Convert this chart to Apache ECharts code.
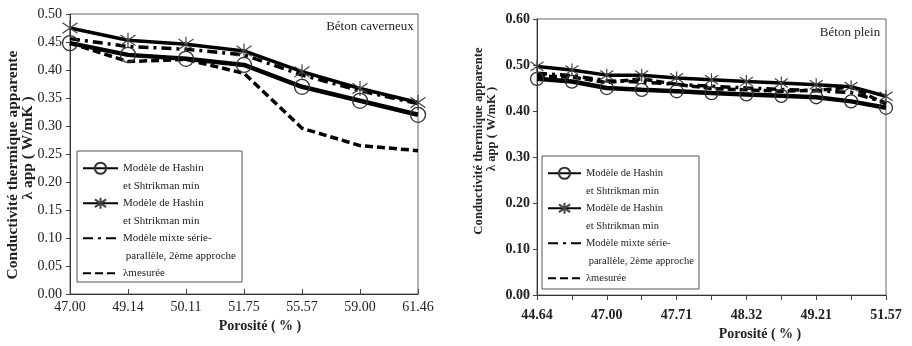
<!DOCTYPE html>
<html>
	<head>
		<meta charset="utf-8">
		<script src="https://cdn.jsdelivr.net/npm/echarts@6.0.0/dist/echarts.min.js"></script>
		<style>
			body {margin:0; background:#fff;}
			#main {width:912px; height:346px;}
		</style>
	</head>
	<body>
		<div id="main"></div>
		<script>
			// béton caverneux
			var cavCats = ['47.00', '49.14', '50.11', '51.75', '55.57', '59.00', '61.46'];
			var cavHsMin = [0.448, 0.427, 0.420, 0.409, 0.370, 0.345, 0.320];
			var cavHsMax = [0.475, 0.453, 0.446, 0.434, 0.397, 0.367, 0.342];
			var cavMixte = [0.456, 0.442, 0.437, 0.427, 0.391, 0.363, 0.340];
			var cavMesure = [0.448, 0.415, 0.419, 0.394, 0.296, 0.265, 0.256];
			// béton plein
			var pleinCats = ['44.64', '', '47.00', '', '47.71', '', '48.32', '', '49.21', '', '51.57'];
			var pleinHsMin = [0.470, 0.464, 0.450, 0.446, 0.443, 0.439, 0.436, 0.433, 0.430, 0.421, 0.407];
			var pleinHsMax = [0.497, 0.489, 0.478, 0.478, 0.472, 0.468, 0.464, 0.461, 0.457, 0.453, 0.432];
			var pleinMixte = [0.482, 0.477, 0.466, 0.463, 0.458, 0.454, 0.450, 0.447, 0.444, 0.440, 0.418];
			var pleinMesure = [0.476, 0.474, 0.462, 0.470, 0.458, 0.449, 0.446, 0.443, 0.445, 0.452, 0.415];

			// blank first line so that the icon sits on the first text line
			var legendText = {
				'hsmin': '\nModèle de Hashin\net Shtrikman min',
				'hsmax': '\nModèle de Hashin\net Shtrikman min',
				'mixte': '\nModèle mixte série-\n parallèle, 2ème approche',
				'mesure': '\nλmesurée\n'
			};

			var serif = 'Liberation Serif';
			var star = 'path://M5,0L5,10M1.5,1.5L8.5,8.5M8.5,1.5L1.5,8.5';
			var L = 17.5;
			var noMark = {color:'rgba(0,0,0,0)', borderColor:'rgba(0,0,0,0)', borderWidth:0};

			function mkSeries(idx, a, b, c, d, sz){
				return [
					{name:'hsmin', type:'line', xAxisIndex:idx, yAxisIndex:idx, data:a,
						symbol:'circle', symbolSize:sz,
						itemStyle:{color:'transparent', borderColor:'#333', borderWidth:1.3},
						lineStyle:{color:'#000', width:4.5}},
					{name:'hsmax', type:'line', xAxisIndex:idx, yAxisIndex:idx, data:b,
						symbol:star, symbolSize:sz,
						itemStyle:{color:'transparent', borderColor:'#444', borderWidth:1.2},
						lineStyle:{color:'#000', width:3.5}},
					{name:'mixte', type:'line', xAxisIndex:idx, yAxisIndex:idx, data:c,
						symbol:'none', itemStyle:{color:'#000'},
						lineStyle:{color:'#000', width:3.5, type:[10, 5, 3, 5]}},
					{name:'mesure', type:'line', xAxisIndex:idx, yAxisIndex:idx, data:d,
						symbol:'none', itemStyle:{color:'#000'},
						lineStyle:{color:'#000', width:3.5, type:[8, 4]}}
				];
			}

			function mkLegend(left, top, w, fs){
				return {
					left:left, top:top, orient:'vertical', padding:0,
					itemWidth:w, itemHeight:14, itemGap:-L, selectedMode:false,
					formatter:function(name){ return legendText[name]; },
					textStyle:{fontFamily:serif, fontSize:fs, color:'#222', lineHeight:L},
					data:[
						{name:'hsmin'}, {name:'hsmax'},
						{name:'mixte', itemStyle:noMark},
						{name:'mesure', itemStyle:noMark}
					]
				};
			}

			var option = {
				animation:false,
				grid:[
					{left:70, right:494, top:14, bottom:52, show:true, borderColor:'#666', borderWidth:1},
					{left:537, right:26, top:19, bottom:50, show:true, borderColor:'#666', borderWidth:1}
				],
				legend:[mkLegend(82, 142, 35, 11), mkLegend(547, 147, 33, 10.5)],
				xAxis:[
					{gridIndex:0, type:'category', data:cavCats, boundaryGap:false,
						axisLine:{lineStyle:{color:'#333'}},
						axisTick:{inside:true, length:5, lineStyle:{color:'#444'}},
						axisLabel:{fontFamily:serif, fontSize:14, color:'#222', margin:6},
						name:'Porosité ( % )', nameLocation:'middle', nameGap:24,
						nameTextStyle:{fontFamily:serif, fontSize:14, fontWeight:'bold', color:'#222', padding:[0,0,0,32]}},
					{gridIndex:1, type:'category', data:pleinCats, boundaryGap:false,
						axisLine:{lineStyle:{color:'#333'}},
						axisTick:{interval:0, length:5, lineStyle:{color:'#444'}},
						axisLabel:{interval:0, fontFamily:serif, fontSize:14, fontWeight:'bold', color:'#222', margin:13},
						name:'Porosité ( % )', nameLocation:'middle', nameGap:31,
						nameTextStyle:{fontFamily:serif, fontSize:14, fontWeight:'bold', color:'#222', padding:[0,0,0,97]}}
				],
				yAxis:[
					{gridIndex:0, type:'value', min:0, max:0.5, interval:0.05,
						axisLine:{show:true, lineStyle:{color:'#333'}},
						axisTick:{show:true, length:4, lineStyle:{color:'#444'}},
						splitLine:{show:false},
						axisLabel:{fontFamily:serif, fontSize:14, color:'#222', margin:8,
							formatter:function(v){ return v.toFixed(2); }}},
					{gridIndex:1, type:'value', min:0, max:0.6, interval:0.1,
						axisLine:{show:true, lineStyle:{color:'#333'}},
						axisTick:{show:true, length:4, lineStyle:{color:'#444'}},
						splitLine:{show:false},
						axisLabel:{fontFamily:serif, fontSize:14, fontWeight:'bold', color:'#222', margin:7,
							formatter:function(v){ return v.toFixed(2); }}}
				],
				graphic:[
					{type:'rect', shape:{x:77, y:151, width:165, height:131}, style:{fill:'none', stroke:'#555', lineWidth:1}, z:-1},
					{type:'rect', shape:{x:542, y:156, width:157, height:133}, style:{fill:'none', stroke:'#555', lineWidth:1}, z:-1},
					{type:'text', x:370, y:27, style:{text:'Béton caverneux', fontFamily:serif, fontSize:13, fill:'#222', textAlign:'center', textVerticalAlign:'middle'}},
					{type:'text', x:850, y:33, style:{text:'Béton plein', fontFamily:serif, fontSize:13, fill:'#222', textAlign:'center', textVerticalAlign:'middle'}},
					{type:'text', x:13, y:165, rotation:Math.PI/2, style:{text:'Conductivité thermique apparente', fontFamily:serif, fontSize:15.5, fontWeight:'bold', fill:'#222', textAlign:'center', textVerticalAlign:'middle'}},
					{type:'text', x:28, y:148, rotation:Math.PI/2, style:{text:'λ app ( W/mK )', fontFamily:serif, fontSize:15.5, fontWeight:'bold', fill:'#222', textAlign:'center', textVerticalAlign:'middle'}},
					{type:'text', x:479, y:141, rotation:Math.PI/2, style:{text:'Conductivité thermique apparente', fontFamily:serif, fontSize:12.7, fontWeight:'bold', fill:'#222', textAlign:'center', textVerticalAlign:'middle'}},
					{type:'text', x:492, y:129, rotation:Math.PI/2, style:{text:'λ app ( W/mK )', fontFamily:serif, fontSize:12.7, fontWeight:'bold', fill:'#222', textAlign:'center', textVerticalAlign:'middle'}}
				],
				series:mkSeries(0, cavHsMin, cavHsMax, cavMixte, cavMesure, 15)
					.concat(mkSeries(1, pleinHsMin, pleinHsMax, pleinMixte, pleinMesure, 13))
			};

			var myChart = echarts.init(document.getElementById('main'));
			myChart.setOption(option, true);
		</script>
	</body>
</html>
